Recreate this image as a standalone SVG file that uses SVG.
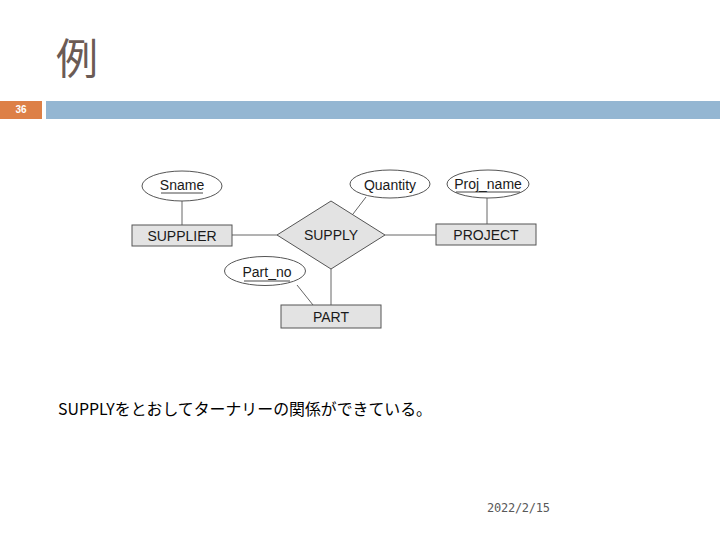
<svg xmlns="http://www.w3.org/2000/svg" width="720" height="540" viewBox="0 0 720 540">
<style>
.ent{fill:#e3e3e3;stroke:#555;stroke-width:1}
.attr{fill:#fff;stroke:#555;stroke-width:1}
.lbl{font-family:"Liberation Sans",Arial,sans-serif;font-size:14px;fill:#1a1a1a;text-anchor:middle}
.conn line{stroke:#666;stroke-width:1}
.ul{stroke:#333;stroke-width:0.9}
</style>
<rect width="720" height="540" fill="#fff"/>
<g id="title">
<text x="56" y="74" font-family="'Noto Sans CJK JP',sans-serif" font-size="42" fill="#6b5b55">例</text>
</g>
<g id="header-bar">
<rect x="0" y="101" width="42" height="18" fill="#dd8047"/>
<rect x="46" y="101" width="674" height="18" fill="#94b6d2"/>
<text x="21" y="113" font-family="'Liberation Sans',Arial,sans-serif" font-size="10" font-weight="bold" fill="#fff" text-anchor="middle">36</text>
</g>
<g class="conn" id="connectors">
<line x1="182" y1="201" x2="182" y2="225"/>
<line x1="232" y1="235" x2="277" y2="235"/>
<line x1="385" y1="235" x2="436" y2="235"/>
<line x1="487" y1="198" x2="487" y2="224"/>
<line x1="366" y1="197" x2="353" y2="214"/>
<line x1="331" y1="269" x2="331" y2="305"/>
<line x1="297" y1="285" x2="313" y2="305"/>
</g>
<g id="SUPPLIER">
<rect class="ent" x="132" y="225" width="100" height="21"/>
<text class="lbl" x="182" y="241">SUPPLIER</text>
</g>
<g id="SUPPLY">
<polygon class="ent" points="331,201 385,235 331,269 277,235"/>
<text class="lbl" x="331" y="240">SUPPLY</text>
</g>
<g id="PROJECT">
<rect class="ent" x="436" y="224" width="100" height="21"/>
<text class="lbl" x="486" y="240">PROJECT</text>
</g>
<g id="PART">
<rect class="ent" x="281" y="305" width="100" height="23"/>
<text class="lbl" x="331" y="322">PART</text>
</g>
<g id="Sname">
<ellipse class="attr" cx="182" cy="186" rx="40" ry="15"/>
<text class="lbl" x="182" y="190">Sname</text>
<line class="ul" x1="161" y1="193" x2="203" y2="193"/>
</g>
<g id="Quantity">
<ellipse class="attr" cx="390" cy="184" rx="40" ry="14"/>
<text class="lbl" x="390" y="190">Quantity</text>
</g>
<g id="Proj_name">
<ellipse class="attr" cx="488" cy="184" rx="41" ry="14"/>
<text class="lbl" x="488" y="189">Proj_name</text>
<line class="ul" x1="456" y1="192" x2="520" y2="192"/>
</g>
<g id="Part_no">
<ellipse class="attr" cx="265" cy="271" rx="40.5" ry="14.5"/>
<text class="lbl" x="267" y="277">Part_no</text>
<line class="ul" x1="244" y1="281" x2="290" y2="281"/>
</g>
<g id="caption">
<text x="58" y="415" font-family="'Noto Sans CJK JP',sans-serif" font-size="16" fill="#000" textLength="374" lengthAdjust="spacingAndGlyphs">SUPPLYをとおしてターナリーの関係ができている。</text>
</g>
<g id="date">
<text x="487" y="512" font-family="'DejaVu Sans Mono','Liberation Mono',monospace" font-size="12" fill="#595959" textLength="63">2022/2/15</text>
</g>
</svg>
